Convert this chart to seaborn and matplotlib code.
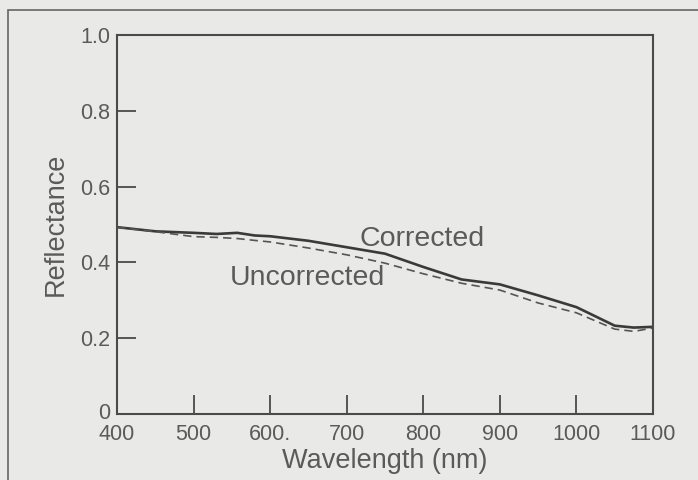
import matplotlib
matplotlib.use("Agg")
import matplotlib.pyplot as plt
import matplotlib.transforms as mtransforms
import seaborn as sns
import pandas as pd
from matplotlib.patches import Rectangle

wavelength = [400, 450, 500, 530, 557, 580, 600, 650, 700, 750, 800, 850, 900, 950, 1000, 1050, 1075, 1100]
corrected = [0.493, 0.482, 0.478, 0.475, 0.478, 0.471, 0.469, 0.457, 0.440, 0.423, 0.388, 0.355, 0.342, 0.313, 0.282, 0.233, 0.228, 0.230]
uncorrected = [0.493, 0.481, 0.468, 0.466, 0.463, 0.458, 0.454, 0.438, 0.420, 0.398, 0.370, 0.345, 0.327, 0.293, 0.267, 0.224, 0.218, 0.227]

x_ticks = [400, 500, 600, 700, 800, 900, 1000, 1100]
x_tick_labels = ["400", "500", "600.", "700", "800", "900", "1000", "1100"]
y_ticks = [0, 0.2, 0.4, 0.6, 0.8, 1.0]
y_tick_labels = ["0", "0.2", "0.4", "0.6", "0.8", "1.0"]

df = pd.DataFrame({
    "Wavelength": wavelength * 2,
    "Reflectance": corrected + uncorrected,
    "Series": ["Corrected"] * len(wavelength) + ["Uncorrected"] * len(wavelength),
})

sns.set_theme(style="white")
plt.rcParams["font.family"] = ["Liberation Sans", "DejaVu Sans"]

bg = "#e9e9e7"
ink = "#4a4a4a"
txt = "#5a5a5a"

fig = plt.figure(figsize=(6.98, 4.80), dpi=100, facecolor=bg)
ax = fig.add_axes([117 / 698, 1 - 414 / 480, (653 - 117) / 698, (414 - 35) / 480])
ax.set_facecolor(bg)

sns.lineplot(data=df, x="Wavelength", y="Reflectance", hue="Series", style="Series",
             palette={"Corrected": "#3a3a3a", "Uncorrected": "#555555"},
             dashes={"Corrected": "", "Uncorrected": (5, 3)},
             legend=False, ax=ax)
lines = ax.get_lines()
lines[0].set_linewidth(1.9)
lines[1].set_linewidth(1.2)

ax.set_xlim(400, 1100)
ax.set_ylim(0, 1.0)
ax.set_xticks(x_ticks)
ax.set_xticklabels(x_tick_labels)
ax.set_yticks(y_ticks)
ax.set_yticklabels(y_tick_labels)
ax.tick_params(axis="both", which="major", bottom=True, left=True, top=False, right=False,
               direction="in", length=14, width=1.3, color=ink, labelsize=15.5,
               labelcolor=txt, pad=5)
ax.tick_params(axis="x", pad=7)
for s in ax.spines.values():
    s.set_visible(True)
    s.set_color(ink)
    s.set_linewidth(1.5)

# nudge the "0" label up a touch so it clears "400"
zero_lbl = ax.get_yticklabels()[0]
zero_lbl.set_transform(zero_lbl.get_transform() +
                       mtransforms.ScaledTranslation(0, 3 / 100, fig.dpi_scale_trans))

ax.set_xlabel("Wavelength (nm)", fontsize=19.5, color=txt, labelpad=2)
ax.set_ylabel("Reflectance", fontsize=19.5, color=txt, labelpad=8)

ax.text(798, 0.462, "Corrected", fontsize=20.5, color=txt, ha="center", va="center")
ax.text(649, 0.359, "Uncorrected", fontsize=20.5, color=txt, ha="center", va="center")

fig.patches.append(Rectangle((8 / 698, -0.1), 1.2, 1 - 10 / 480 + 0.1, transform=fig.transFigure,
                             fill=False, edgecolor="#666666", linewidth=1.2))

fig.savefig("out.png", dpi=100, facecolor=bg)
